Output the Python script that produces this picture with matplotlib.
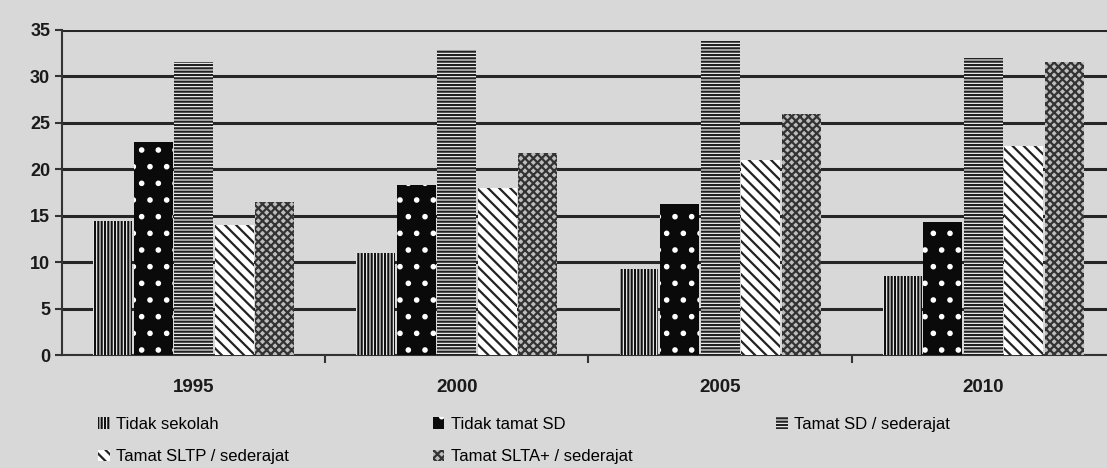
import matplotlib.pyplot as plt
import numpy as np
from matplotlib.patches import Patch

plt.rcParams['hatch.linewidth'] = 1.6

years = ['1995', '2000', '2005', '2010']
tidak_sekolah = [14.4, 11.0, 9.3, 8.5]
tidak_tamat_sd = [22.9, 18.3, 16.3, 14.3]
tamat_sd = [31.5, 32.8, 33.8, 32.0]
tamat_sltp = [14.0, 18.0, 21.0, 22.5]
tamat_slta = [16.5, 21.8, 26.0, 31.5]

labels = ['Tidak sekolah', 'Tidak tamat SD', 'Tamat SD / sederajat',
          'Tamat SLTP / sederajat', 'Tamat SLTA+ / sederajat']
series = [tidak_sekolah, tidak_tamat_sd, tamat_sd, tamat_sltp, tamat_slta]
# facecolor, hatch colour, hatch
styles = [('white', '#111111', '|||||'),
          ('#0a0a0a', 'white', '.'),
          ('white', '#222222', '-----'),
          ('white', '#222222', '\\\\\\'),
          ('#bdbdbd', '#333333', 'xxxx')]

bg = '#d8d8d8'
fig = plt.figure(figsize=(11.07, 4.68), dpi=100, facecolor=bg)
ax = fig.add_axes([0.056, 0.241, 0.944, 0.695], facecolor=bg)

x = np.arange(len(years))
w = 0.148
step = 0.154
for i, (vals, (fc, hc, h)) in enumerate(zip(series, styles)):
    ax.bar(x + (i - 2) * step, vals, w, color=fc, edgecolor=hc, hatch=h,
           linewidth=0, zorder=3)

ax.set_ylim(0, 35)
ax.set_xlim(-0.50, 3.47)
ax.set_yticks(range(0, 36, 5))
ax.yaxis.grid(True, color='#262626', linewidth=2.2, zorder=0)
ax.set_axisbelow(True)
for s in ['top', 'right']:
    ax.spines[s].set_visible(False)
ax.spines['left'].set_color('#333333')
ax.spines['bottom'].set_color('#333333')
ax.spines['left'].set_linewidth(1.5)
ax.spines['bottom'].set_linewidth(1.5)

ax.set_xticks(x)
ax.set_xticklabels(years)
ax.set_xticks(x[:-1] + 0.5, minor=True)
ax.tick_params(axis='x', which='major', length=0, pad=17, labelsize=13.5)
ax.tick_params(axis='x', which='minor', length=6, width=1.5, color='#333333')
ax.tick_params(axis='y', length=5, width=1.5, color='#333333', labelsize=13)
for t in ax.get_xticklabels() + ax.get_yticklabels():
    t.set_fontfamily('Liberation Sans')
    t.set_fontweight('bold')
    t.set_color('#1a1a1a')

handles = [Patch(facecolor=fc, edgecolor=hc, hatch=h, linewidth=0)
           for fc, hc, h in styles]
order = [0, 3, 1, 4, 2]
fig.legend([handles[i] for i in order], [labels[i] for i in order],
           ncol=3, loc='lower left', bbox_to_anchor=(0.075, -0.024),
           frameon=False, handlelength=0.7, handleheight=0.7,
           columnspacing=8.6, labelspacing=1.05, handletextpad=0.4,
           prop={'family': 'Liberation Sans', 'size': 12})

fig.savefig('out.png', dpi=100, facecolor=bg)
